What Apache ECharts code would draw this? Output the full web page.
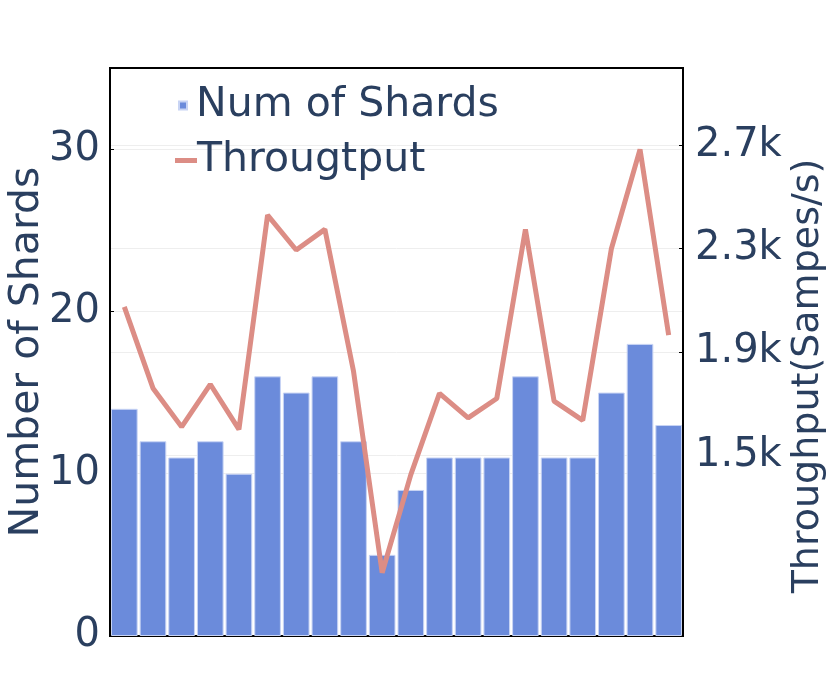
<!DOCTYPE html>
<html>
<head>
<meta charset="utf-8">
<script src="https://cdn.jsdelivr.net/npm/echarts@6/dist/echarts.min.js"></script>
<style>html,body{margin:0;padding:0;background:#fff;}#c{width:830px;height:692px;}</style>
</head>
<body>
<div id="c"></div>
<script>
const categories = ['1','2','3','4','5','6','7','8','9','10','11','12','13','14','15','16','17','18','19','20'];
const shards = [14, 12, 11, 12, 10, 16, 15, 16, 12, 5, 9, 11, 11, 11, 16, 11, 11, 15, 18, 13];
const throughput = [2075, 1760, 1610, 1775, 1600, 2430, 2295, 2375, 1825, 1045, 1425, 1740, 1645, 1720, 2375, 1710, 1635, 2300, 2685, 1965];
const leftTicks = [0, 10, 20, 30];
const rightTicks = [1500, 1900, 2300, 2700];

const textColor = '#2a3f5f';
const font = 'DejaVu Sans';
const chart = echarts.init(document.getElementById('c'), null, {renderer: 'canvas'});
chart.setOption({
  animation: false,
  backgroundColor: '#fff',
  textStyle: {fontFamily: font, color: textColor},
  grid: {left: 110, right: 147, top: 68, bottom: 56, outerBoundsMode: 'none', containLabel: false,
    show: true, borderColor: '#000', borderWidth: 2, backgroundColor: 'transparent'},
  legend: [
    {data: ['Num of Shards'], orient: 'vertical', left: 173, top: 80, icon: 'rect', itemWidth: 8, itemHeight: 8,
     textStyle: {fontFamily: font, fontSize: 41, color: textColor, padding: [0,0,0,4]}},
    {data: ['Througtput'], orient: 'vertical', left: 170, top: 135, icon: 'rect', itemWidth: 22, itemHeight: 5,
     textStyle: {fontFamily: font, fontSize: 41, color: textColor, padding: [0,0,0,-5]}}
  ],
  xAxis: {type: 'category', data: categories, axisLine: {show: true, lineStyle: {color: '#000', width: 2}},
    axisTick: {show: false}, axisLabel: {show: false}, splitLine: {show: false}},
  yAxis: [
    {type: 'value', min: 0, max: 35, position: 'left', name: 'Number of Shards', nameLocation: 'middle', nameGap: 62,
     nameMoveOverlap: false,
     nameTextStyle: {fontFamily: font, fontSize: 41, color: textColor},
     axisLine: {show: true, lineStyle: {color: '#000', width: 2}},
     axisTick: {show: true, inside: true, length: 4, customValues: leftTicks, lineStyle: {color: '#000'}},
     axisLabel: {customValues: leftTicks, fontFamily: font, fontSize: 40, color: textColor, margin: 10},
     splitLine: {show: true, lineStyle: {color: '#eeeeee', width: 1}}},
    {type: 'value', min: 800, max: 3000, position: 'right', name: 'Throughput(Sampes/s)', nameLocation: 'middle', nameGap: 106,
     nameMoveOverlap: false,
     nameTextStyle: {fontFamily: font, fontSize: 38, color: textColor, padding: [0, 48, 0, 0]},
     axisLine: {show: true, lineStyle: {color: '#000', width: 2}},
     axisTick: {show: true, inside: true, length: 4, customValues: rightTicks, lineStyle: {color: '#000'}},
     axisLabel: {customValues: rightTicks, fontFamily: font, fontSize: 40, color: textColor, margin: 12,
       formatter: v => (v / 1000).toFixed(1) + 'k'},
     splitLine: {show: true, lineStyle: {color: '#eeeeee', width: 1}}}
  ],
  series: [
    {name: 'Num of Shards', type: 'bar', yAxisIndex: 0, data: shards, barCategoryGap: '7%',
     itemStyle: {color: '#6b8bdb', borderColor: '#c8d4f4', borderWidth: 1}},
    {name: 'Througtput', type: 'line', yAxisIndex: 1, data: throughput, symbol: 'none',
     lineStyle: {color: '#dc8d85', width: 5}, itemStyle: {color: '#dc8d85'}}
  ]
});
</script>
</body>
</html>
